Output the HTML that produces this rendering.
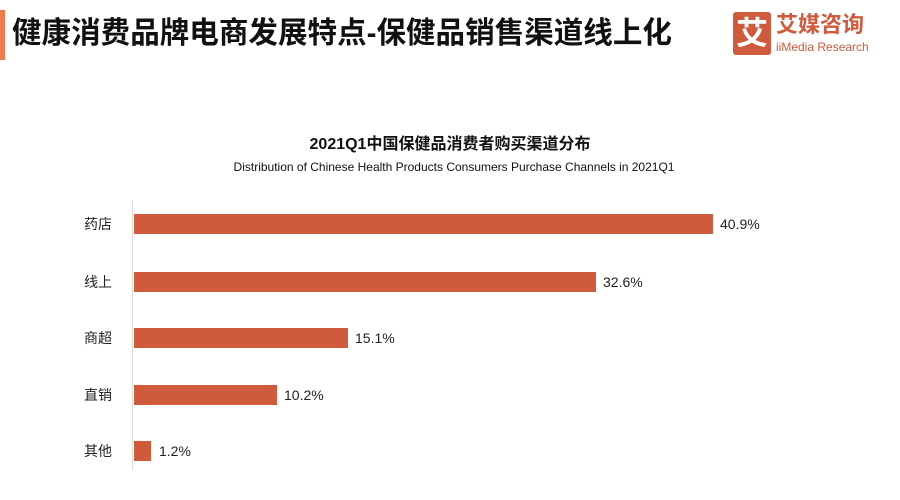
<!DOCTYPE html>
<html><head><meta charset="utf-8"><style>
body{margin:0;width:900px;height:500px;background:#fff;font-family:"Liberation Sans","Noto Sans CJK SC",sans-serif;position:relative;overflow:hidden}
.a{position:absolute;white-space:nowrap}
.bar{position:absolute;left:134px;height:20px;background:#d05a3c}
.lab{position:absolute;left:84px;font-size:14px;color:#222;line-height:20px}
.val{position:absolute;font-size:14px;color:#222;line-height:20px}
</style></head><body>
<div class="a" style="left:0;top:10px;width:5px;height:50px;background:#f07a4a"></div>
<div class="a" style="left:12px;top:14px;font-size:30px;font-weight:bold;color:#111;line-height:40px;transform:scaleX(0.985);transform-origin:left">健康消费品牌电商发展特点-保健品销售渠道线上化</div>
<div class="a" style="left:733px;top:12px;width:38px;height:43px;background:#d05a3c;border-radius:3px;color:#fff;font-size:32px;line-height:43px;text-align:center;font-weight:bold">艾</div>
<div class="a" style="left:776px;top:11px;font-size:22px;color:#d05a3c;font-weight:bold;line-height:28px">艾媒咨询</div>
<div class="a" style="left:776px;top:40px;font-size:12px;color:#d05a3c;line-height:14px">iiMedia Research</div>
<div class="a" style="left:0;width:900px;top:130px;text-align:center;font-size:16px;font-weight:bold;color:#111">2021Q1中国保健品消费者购买渠道分布</div>
<div class="a" style="left:0;width:900px;top:160px;text-align:center;font-size:12px;color:#111;padding-left:8px;box-sizing:border-box">Distribution of Chinese Health Products Consumers Purchase Channels in 2021Q1</div>
<div class="a" style="left:132px;top:200px;width:1px;height:270px;background:#ddd"></div>
<div class="bar" style="top:214px;width:579px"></div><div class="lab" style="top:214px">药店</div><div class="val" style="top:214px;left:720px">40.9%</div>
<div class="bar" style="top:272px;width:462px"></div><div class="lab" style="top:272px">线上</div><div class="val" style="top:272px;left:603px">32.6%</div>
<div class="bar" style="top:328px;width:214px"></div><div class="lab" style="top:328px">商超</div><div class="val" style="top:328px;left:355px">15.1%</div>
<div class="bar" style="top:385px;width:143px"></div><div class="lab" style="top:385px">直销</div><div class="val" style="top:385px;left:284px">10.2%</div>
<div class="bar" style="top:441px;width:17px"></div><div class="lab" style="top:441px">其他</div><div class="val" style="top:441px;left:159px">1.2%</div>
</body></html>
